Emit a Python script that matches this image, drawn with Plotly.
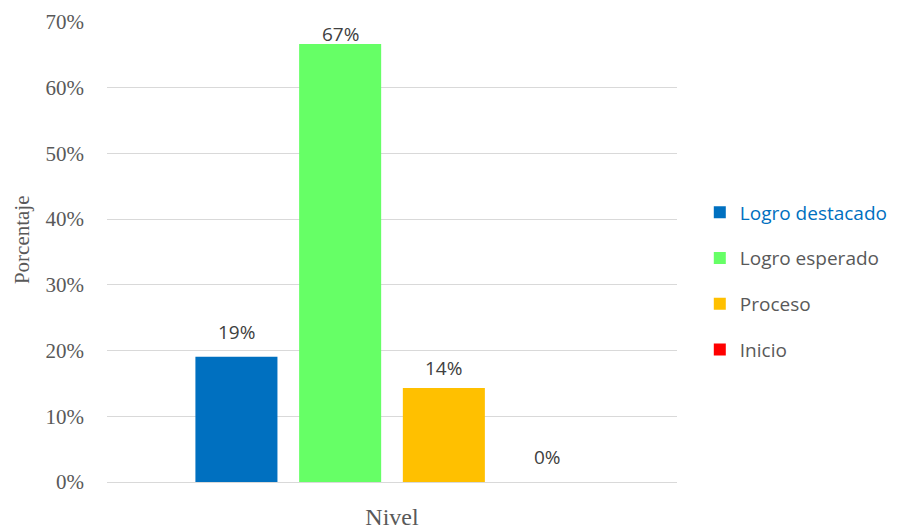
import plotly.graph_objects as go

series_names = ["Logro destacado", "Logro esperado", "Proceso", "Inicio"]
series_values = [19.05, 66.67, 14.29, 0.0]
series_labels = ["19%", "67%", "14%", "0%"]
series_colors = ["#0070C0", "#66FF66", "#FFC000", "#FF0000"]
y_ticks = [0, 10, 20, 30, 40, 50, 60, 70]
y_ticklabels = [f"{v}%" for v in y_ticks]
x_title = "Nivel"
y_title = "Porcentaje"

# style: vertical pixel shift of each data label above its bar
label_shifts = [25, 10, 20, 25]

fig = go.Figure()
for name, val, col in zip(series_names, series_values, series_colors):
    legend_name = name
    if name == "Logro destacado":
        legend_name = f"<span style='color:#0070C0'>{name}</span>"
    fig.add_trace(go.Bar(
        x=[name], y=[val], name=legend_name,
        marker=dict(color=col, line=dict(width=0)),
        legendgroup=name, hoverinfo="name+y",
    ))

for name, val, lab, sh in zip(series_names, series_values, series_labels, label_shifts):
    fig.add_annotation(
        x=name, y=val, xref="x", yref="y", text=lab, showarrow=False,
        yanchor="middle", yshift=sh,
        font=dict(family="Open Sans", size=19, color="#404040"),
    )

# y-axis title (as rotated text, placed like the original)
fig.add_annotation(
    x=-0.149, y=0.526, xref="paper", yref="paper", text=y_title, showarrow=False,
    textangle=-90, xanchor="center", yanchor="middle",
    font=dict(family="Liberation Serif", size=21, color="#595959"),
)

fig.update_layout(
    width=900, height=530,
    margin=dict(l=107, r=223, t=22, b=48, autoexpand=False),
    paper_bgcolor="white", plot_bgcolor="white",
    barmode="overlay", bargap=0.209,
    showlegend=True,
    legend=dict(
        x=1.04, xanchor="left", y=0.437, yanchor="middle",
        font=dict(family="Open Sans", size=19, color="#595959"),
        tracegroupgap=18, itemwidth=30,
    ),
)
fig.update_yaxes(
    range=[0, 70], tickvals=y_ticks, ticktext=y_ticklabels,
    showgrid=True, gridcolor="#D9D9D9", gridwidth=1,
    zeroline=True, zerolinecolor="#D9D9D9", zerolinewidth=1,
    showline=False, ticks="", ticklabelstandoff=22, automargin=False,
    tickfont=dict(family="Liberation Serif", size=21, color="#595959"),
)
fig.update_xaxes(
    type="category", range=[-1.248, 4.248],
    showticklabels=False, showgrid=False, showline=False, ticks="", automargin=False,
    title=dict(text=x_title, font=dict(family="Liberation Serif", size=24, color="#595959"), standoff=28),
)

fig.write_html("out.html")
